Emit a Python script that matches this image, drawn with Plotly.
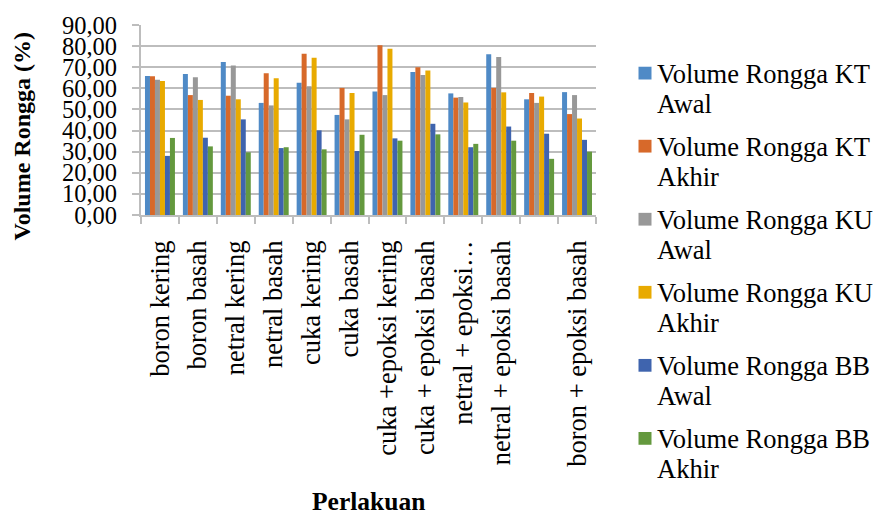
import plotly.graph_objects as go

# Perlakuan (treatments); one category has no label
categories = [
    "boron kering", "boron basah", "netral kering", "netral basah",
    "cuka kering", "cuka basah", "cuka +epoksi kering", "cuka + epoksi basah",
    "netral + epoksi…", "netral + epoksi basah", " ", "boron + epoksi basah",
]

kt_awal = [65.8, 66.8, 72.5, 53.1, 62.7, 47.4, 58.5, 67.7, 57.6, 76.2, 54.8, 58.2]
kt_akhir = [65.7, 56.8, 56.5, 67.1, 76.4, 60.2, 80.4, 70.0, 55.6, 60.2, 57.8, 47.8]
ku_awal = [64.1, 65.2, 70.8, 51.9, 61.0, 45.3, 56.8, 66.3, 55.9, 74.8, 53.1, 56.8]
ku_akhir = [63.5, 54.5, 54.8, 64.8, 74.5, 57.8, 78.7, 68.5, 53.3, 58.1, 56.1, 45.7]
bb_awal = [28.0, 36.6, 45.3, 31.7, 40.1, 30.3, 36.3, 43.2, 32.1, 41.9, 38.5, 35.6]
bb_akhir = [36.5, 32.5, 29.7, 32.1, 31.1, 38.0, 35.2, 38.2, 33.7, 35.2, 26.6, 30.0]

# legend text, split over two lines
series_line1 = ["Volume Rongga KT", "Volume Rongga KT", "Volume Rongga KU",
                "Volume Rongga KU", "Volume Rongga BB", "Volume Rongga BB"]
series_line2 = ["Awal", "Akhir", "Awal", "Akhir", "Awal", "Akhir"]
series_values = [kt_awal, kt_akhir, ku_awal, ku_akhir, bb_awal, bb_akhir]
series_colors = ["#4F8AC6", "#D7692A", "#989898", "#E8AA00", "#3F64AE", "#64993E"]

y_ticks = [0, 10, 20, 30, 40, 50, 60, 70, 80, 90]

FONT = "Liberation Serif"
GRID = "#BDBDBD"

W, H = 877, 516
L, R, T, B = 141, 596, 21.5, 215


def px_x(p):
    return (p - L) / (R - L)


def px_y(p):
    return (B - p) / (B - T)


fig = go.Figure()
for l1, l2, vals, col in zip(series_line1, series_line2, series_values, series_colors):
    fig.add_trace(go.Bar(
        x=categories, y=vals, name=f"{l1} {l2}", showlegend=False,
        marker=dict(color=col, line=dict(width=0)),
    ))

# legend drawn beside the plot: a colour square and two text lines per series
shapes = []
annotations = []
LEG_Y0, LEG_STEP, LINE_GAP = 70.5, 74.4, 31
for i, (l1, l2, col) in enumerate(zip(series_line1, series_line2, series_colors)):
    cy = LEG_Y0 + i * LEG_STEP
    shapes.append(dict(
        type="rect", xref="paper", yref="paper",
        x0=px_x(638.5), x1=px_x(651.5), y0=px_y(cy - 6.5), y1=px_y(cy + 6.5),
        fillcolor=col, line=dict(width=0), layer="above",
    ))
    for j, txt in enumerate((l1, l2)):
        annotations.append(dict(
            text=txt, xref="paper", yref="paper",
            x=px_x(655), y=px_y(cy + 0.5 + j * LINE_GAP),
            xanchor="left", yanchor="middle", showarrow=False, align="left",
            font=dict(family=FONT, size=26.5, color="black"),
        ))

annotations += [
    dict(text="<b>Volume Rongga (%)</b>", textangle=-90,
         xref="paper", yref="paper",
         x=px_x(22), y=px_y(135),
         xanchor="center", yanchor="middle", showarrow=False,
         font=dict(family=FONT, size=24, color="black")),
    dict(text="<b>Perlakuan</b>",
         xref="paper", yref="paper",
         x=0.5, y=px_y(507),
         xanchor="center", yanchor="middle", showarrow=False,
         font=dict(family=FONT, size=25.5, color="black")),
]

fig.update_layout(
    width=W, height=H,
    margin=dict(l=L, r=W - R, t=T, b=H - B, pad=0),
    paper_bgcolor="white", plot_bgcolor="white",
    barmode="group", bargap=0.21, bargroupgap=0,
    separators=",.",
    font=dict(family=FONT, size=25, color="black"),
    showlegend=False,
    xaxis=dict(
        type="category", showgrid=False, zeroline=False,
        showline=True, linecolor=GRID, linewidth=2,
        ticks="outside", tickson="boundaries", ticklen=7, tickwidth=2, tickcolor=GRID,
        tickangle=-90, ticklabelstandoff=13,
        tickfont=dict(family=FONT, size=26.5, color="black"),
    ),
    yaxis=dict(
        range=[0, 90], tickvals=y_ticks, tickformat=".2f",
        showgrid=True, gridcolor=GRID, gridwidth=2, zeroline=False,
        showline=True, linecolor=GRID, linewidth=2,
        ticks="outside", ticklen=7, tickwidth=2, tickcolor=GRID,
        ticklabelstandoff=10,
        tickfont=dict(family=FONT, size=24.5, color="black"),
    ),
    shapes=shapes,
    annotations=annotations,
)

fig.write_html("out.html")
